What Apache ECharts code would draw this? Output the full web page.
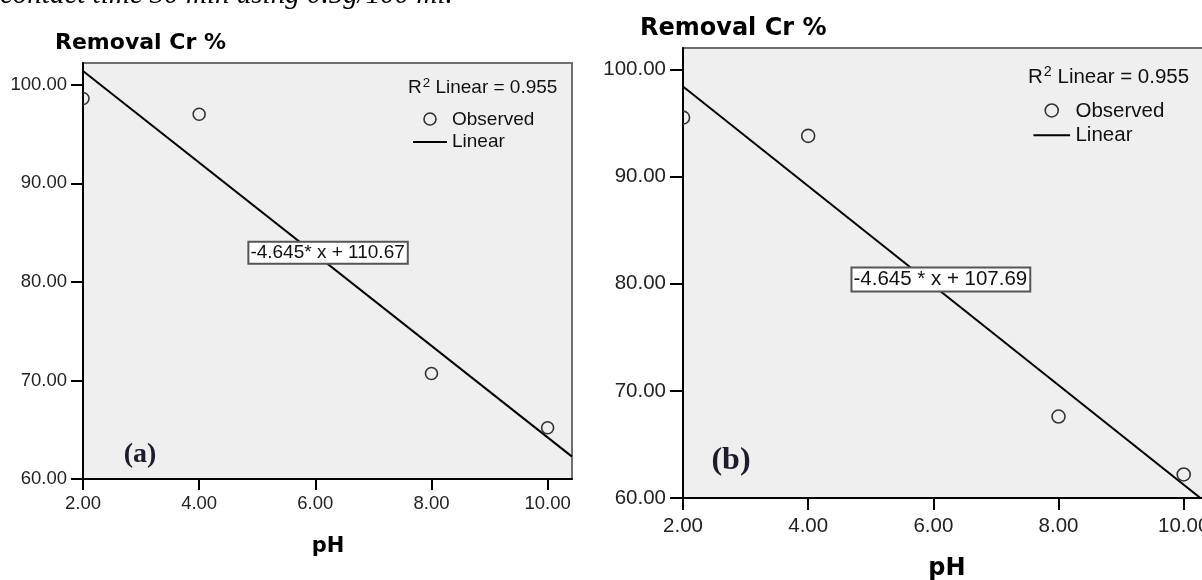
<!DOCTYPE html>
<html>
<head>
<meta charset="utf-8">
<title>Removal Cr % vs pH</title>
<script src="https://cdn.jsdelivr.net/npm/echarts@6/dist/echarts.min.js"></script>
<style>
  html, body { margin: 0; padding: 0; background: #fff; }
  #chart { width: 1202px; height: 580px; }
</style>
</head>
<body>
<div id="chart"></div>
<script>
// values, (a) left and (b) right
var phValues = [2, 4, 8, 10];
var removalA = [98.6, 97.0, 70.7, 65.2];
var removalB = [95.5, 93.8, 67.6, 62.2];

// linear fits printed on the plots
var slopes = [-4.645, -4.645];
var intercepts = [110.67, 107.69];
var rSquared = [0.955, 0.955];
var eqLabels = ['-4.645* x + 110.67', '-4.645 * x + 107.69'];

var xTicks = [2, 4, 6, 8, 10];
var yTicks = [60, 70, 80, 90, 100];
var xRange = [2, 10.42];
var yMaxes = [102.2, 102];

function pairs(ys) {
  return phValues.map(function (x, i) { return [x, ys[i]]; });
}

function fitLine(i) {
  return xRange.map(function (x) { return [x, slopes[i] * x + intercepts[i]]; });
}

function fmt(v) { return Number(v).toFixed(2); }

var SANS = 'Liberation Sans, Arial, sans-serif';

function xAxisFor(i, fs, tickLen, margin) {
  return {
    type: 'value', gridIndex: i,
    min: xRange[0], max: xRange[1], interval: 2,
    axisLine: { show: true, onZero: false, lineStyle: { color: '#000', width: 2 } },
    axisTick: { show: true, length: tickLen, customValues: xTicks, lineStyle: { color: '#000', width: 2 } },
    axisLabel: { customValues: xTicks, margin: margin, fontSize: fs, color: '#222', fontFamily: SANS, formatter: fmt },
    splitLine: { show: false }
  };
}

function yAxisFor(i, fs, tickLen, margin) {
  return {
    type: 'value', gridIndex: i,
    min: 60, max: yMaxes[i], interval: 10,
    axisLine: { show: true, onZero: false, lineStyle: { color: '#000', width: 2 } },
    axisTick: { show: true, length: tickLen, customValues: yTicks, lineStyle: { color: '#000', width: 2 } },
    axisLabel: { customValues: yTicks, margin: margin, fontSize: fs, color: '#222', fontFamily: SANS, formatter: fmt },
    splitLine: { show: false }
  };
}

function observed(i, ys, r) {
  return {
    type: 'custom', name: 'Observed',
    xAxisIndex: i, yAxisIndex: i,
    clip: true,
    data: pairs(ys),
    renderItem: function (params, api) {
      var p = api.coord([api.value(0), api.value(1)]);
      return {
        type: 'circle',
        shape: { cx: p[0], cy: p[1], r: r },
        style: { fill: 'none', stroke: '#333', lineWidth: 1.6 }
      };
    }
  };
}

function linear(i, labelAt, fs) {
  return {
    type: 'line', name: 'Linear',
    xAxisIndex: i, yAxisIndex: i,
    data: fitLine(i),
    symbol: 'none', clip: true,
    lineStyle: { color: '#000', width: 2 },
    markPoint: {
      symbol: 'rect', symbolSize: 1, silent: true,
      itemStyle: { color: 'rgba(0,0,0,0)' },
      data: [{ coord: labelAt }],
      label: {
        show: true, position: 'inside', formatter: eqLabels[i],
        backgroundColor: '#fff', borderColor: '#555', borderWidth: 2,
        padding: [1, 2, 0, 1], fontSize: fs, color: '#111', fontFamily: SANS
      }
    }
  };
}

function txt(x, y, text, font, align, fill) {
  return {
    type: 'text', x: x, y: y, silent: true,
    style: { text: text, font: font, fill: fill || '#000', align: align || 'left', verticalAlign: 'middle' }
  };
}

function legend(i, x0, y0, fs, r) {
  // x0,y0: left of the R² line; the rows below follow SPSS spacing
  var k = fs / 19;
  return [
    {
      type: 'text', x: x0, y: y0, silent: true,
      style: {
        text: '{a|R}{s|2}{a| Linear = ' + rSquared[i].toFixed(3) + '}',
        verticalAlign: 'middle',
        rich: {
          a: { fontSize: fs, fontFamily: SANS, fill: '#111', color: '#111', lineHeight: fs * 1.2 },
          s: { fontSize: fs * 0.7, fontFamily: SANS, fill: '#111', color: '#111', verticalAlign: 'top', padding: [0, 0, 0, 1] }
        }
      }
    },
    { type: 'circle', silent: true, shape: { cx: x0 + 22 * k, cy: y0 + 31 * k, r: r },
      style: { fill: 'none', stroke: '#333', lineWidth: 1.6 } },
    txt(x0 + 44 * k, y0 + 32 * k, 'Observed', fs + 'px ' + SANS, 'left', '#111'),
    { type: 'line', silent: true, shape: { x1: x0 + 5 * k, y1: y0 + 54 * k, x2: x0 + 39 * k, y2: y0 + 54 * k },
      style: { stroke: '#000', lineWidth: 2 } },
    txt(x0 + 44 * k, y0 + 54 * k, 'Linear', fs + 'px ' + SANS, 'left', '#111')
  ];
}

var chart = echarts.init(document.getElementById('chart'));

chart.setOption({
  animation: false,
  backgroundColor: '#fff',
  grid: [
    { left: 83, top: 63, width: 489, height: 416, show: true, backgroundColor: '#efefef',
      borderColor: '#6f6f6f', borderWidth: 2, outerBoundsMode: 'none' },
    { left: 683, top: 48, width: 527, height: 450, show: true, backgroundColor: '#efefef',
      borderColor: '#6f6f6f', borderWidth: 2, outerBoundsMode: 'none' }
  ],
  xAxis: [xAxisFor(0, 18.5, 11, 15), xAxisFor(1, 20.5, 12, 18)],
  yAxis: [yAxisFor(0, 18.5, 12, 16), yAxisFor(1, 20.5, 13, 17)],
  series: [
    observed(0, removalA, 6),
    linear(0, [6.22, 82.96], 19),
    observed(1, removalB, 6.5),
    linear(1, [6.12, 80.4], 20.5)
  ],
  graphic: [
    txt(0, -5, 'contact time 30 min using 0.5g/100 ml.', 'italic 29px Liberation Serif, serif', 'left', '#000'),
    txt(55, 43.5, 'Removal Cr %', 'bold 22px DejaVu Sans, sans-serif'),
    txt(640, 29, 'Removal Cr %', 'bold 24px DejaVu Sans, sans-serif'),
    txt(328, 547, 'pH', 'bold 21px DejaVu Sans, sans-serif', 'center'),
    txt(947, 569, 'pH', 'bold 24px DejaVu Sans, sans-serif', 'center'),
    txt(140, 455, '(a)', 'bold 28px Liberation Serif, serif', 'center', '#1c1c2a'),
    txt(731, 461, '(b)', 'bold 32px Liberation Serif, serif', 'center', '#1c1c2a')
  ].concat(legend(0, 408, 88, 19, 6)).concat(legend(1, 1028, 77, 20.5, 6.5))
});
</script>
</body>
</html>
